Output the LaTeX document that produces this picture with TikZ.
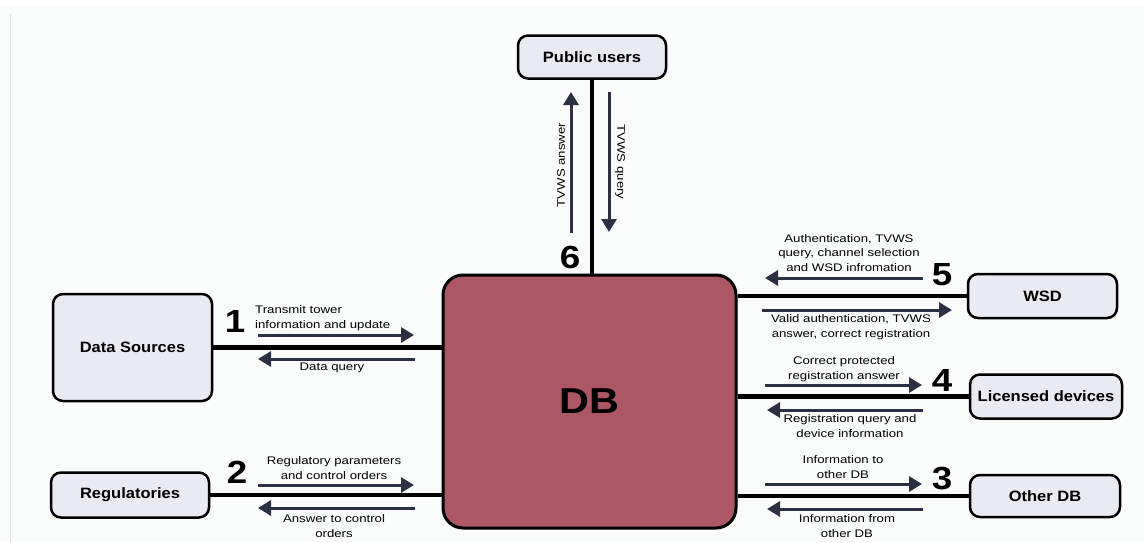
\documentclass[tikz,border=0pt]{standalone}
\usepackage{fontspec}
\setmainfont{Liberation Sans}
\newfontfamily\lblfont[FakeStretch=1.2]{Liberation Sans}
\newfontfamily\boxfont[FakeStretch=1.1]{Liberation Sans}
\newfontfamily\numfont[FakeStretch=1.15]{Liberation Sans}
\usetikzlibrary{arrows.meta}

\definecolor{bg}{HTML}{FAFBFB}
\definecolor{boxfill}{HTML}{E8EBF2}
\definecolor{dbfill}{HTML}{AD5664}
\definecolor{arrowc}{HTML}{2B3142}

\tikzset{
  entity/.style={draw=black, line width=2.5pt, rounded corners=10pt, fill=boxfill,
    font=\boxfont\bfseries\fontsize{15}{18}\selectfont, inner sep=0pt},
  dbbox/.style={draw=black, line width=3pt, rounded corners=20pt, fill=dbfill,
    minimum width=293pt, minimum height=253pt, inner sep=0pt,
    font=\numfont\bfseries\fontsize{36}{40}\selectfont},
  link/.style={line width=4.5pt},
  flow/.style={draw=arrowc, line width=3pt, -{Triangle[length=13pt,width=15pt]}},
  lbl/.style={font=\lblfont\fontsize{11}{14.5}\selectfont, align=center, inner sep=0pt},
  num/.style={font=\numfont\bfseries\fontsize{32}{32}\selectfont, inner sep=0pt},
}

\begin{document}
\begin{tikzpicture}[x=1pt, y=-1pt]
  % canvas
  \fill[bg] (0,0) rectangle (1144,542);
  \fill[white] (0,0) rectangle (1144,5);
  \useasboundingbox (0,0) rectangle (1144,542);
  \draw[gray!25, line width=1pt] (10,14) -- (10,542);

  % entities
  \node[dbbox] (db) at (589.5,401.5) {DB};
  \node[entity, minimum width=148pt, minimum height=43pt] (pub) at (592,57) {Public users};
  \node[entity, minimum width=159pt, minimum height=107pt] (ds) at (132.5,347.5) {Data Sources};
  \node[entity, minimum width=158pt, minimum height=45pt] (reg) at (130,495) {Regulatories};
  \node[entity, minimum width=149pt, minimum height=44pt] (wsd) at (1042.5,296) {WSD};
  \node[entity, minimum width=152pt, minimum height=44pt] (lic) at (1046,396.5) {Licensed devices};
  \node[entity, minimum width=150pt, minimum height=42pt] (odb) at (1045,496) {Other DB};

  % links to the database
  \draw[link] (pub.south) -- (pub.south |- db.north);
  \draw[link] (ds.east) -- (ds.east -| db.west);
  \draw[link] (reg.east) -- (reg.east -| db.west);
  \draw[link] (wsd.west) -- (wsd.west -| db.east);
  \draw[link] (lic.west) -- (lic.west -| db.east);
  \draw[link] (odb.west) -- (odb.west -| db.east);

  % 6: public users
  \coordinate (p6a) at (571,233); \coordinate (p6b) at (571,92);
  \coordinate (p6c) at (609,92);  \coordinate (p6d) at (609,232);
  \draw[flow] (p6a) -- (p6b);
  \draw[flow] (p6c) -- (p6d);
  \node[lbl, rotate=90] (l6a) at (561,165) {TVWS answer};
  \node[lbl, rotate=-90] (l6b) at (620,162) {TVWS query};
  \node[num] (n6) at (570,257) {6};

  % 1: data sources
  \coordinate (p1a) at (258,335); \coordinate (p1b) at (414,335);
  \coordinate (p1c) at (415,359); \coordinate (p1d) at (258,359);
  \draw[flow] (p1a) -- (p1b);
  \draw[flow] (p1c) -- (p1d);
  \node[num] (n1) at (235,321) {1};
  \node[lbl, align=left, anchor=west] (l1a) at (255,318) {Transmit tower\\information and update};
  \node[lbl] (l1b) at (332,368) {Data query};

  % 2: regulatories
  \coordinate (p2a) at (258,485); \coordinate (p2b) at (414,485);
  \coordinate (p2c) at (415,508); \coordinate (p2d) at (258,508);
  \draw[flow] (p2a) -- (p2b);
  \draw[flow] (p2c) -- (p2d);
  \node[num] (n2) at (237,472) {2};
  \node[lbl] (l2a) at (334,468) {Regulatory parameters\\and control orders};
  \node[lbl] (l2b) at (334,526) {Answer to control\\orders};

  % 5: WSD
  \coordinate (p5a) at (923,278); \coordinate (p5b) at (765,278);
  \coordinate (p5c) at (762,310); \coordinate (p5d) at (952,310);
  \draw[flow] (p5a) -- (p5b);
  \draw[flow] (p5c) -- (p5d);
  \node[num] (n5) at (942,275) {5};
  \node[lbl] (l5a) at (849,253) {Authentication, TVWS\\query, channel selection\\and WSD infromation};
  \node[lbl] (l5b) at (851,327) {Valid authentication, TVWS\\answer, correct registration};

  % 4: licensed devices
  \coordinate (p4a) at (765,385); \coordinate (p4b) at (922,385);
  \coordinate (p4c) at (923,410); \coordinate (p4d) at (767,410);
  \draw[flow] (p4a) -- (p4b);
  \draw[flow] (p4c) -- (p4d);
  \node[num] (n4) at (942,380) {4};
  \node[lbl] (l4a) at (844,369) {Correct protected\\registration answer};
  \node[lbl] (l4b) at (850,426) {Registration query and\\device information};

  % 3: other DB
  \coordinate (p3a) at (765,484); \coordinate (p3b) at (922,484);
  \coordinate (p3c) at (923,509); \coordinate (p3d) at (767,509);
  \draw[flow] (p3a) -- (p3b);
  \draw[flow] (p3c) -- (p3d);
  \node[num] (n3) at (942,478) {3};
  \node[lbl] (l3a) at (843,467) {Information to\\other DB};
  \node[lbl] (l3b) at (847,526) {Information from\\other DB};
\end{tikzpicture}
\end{document}
